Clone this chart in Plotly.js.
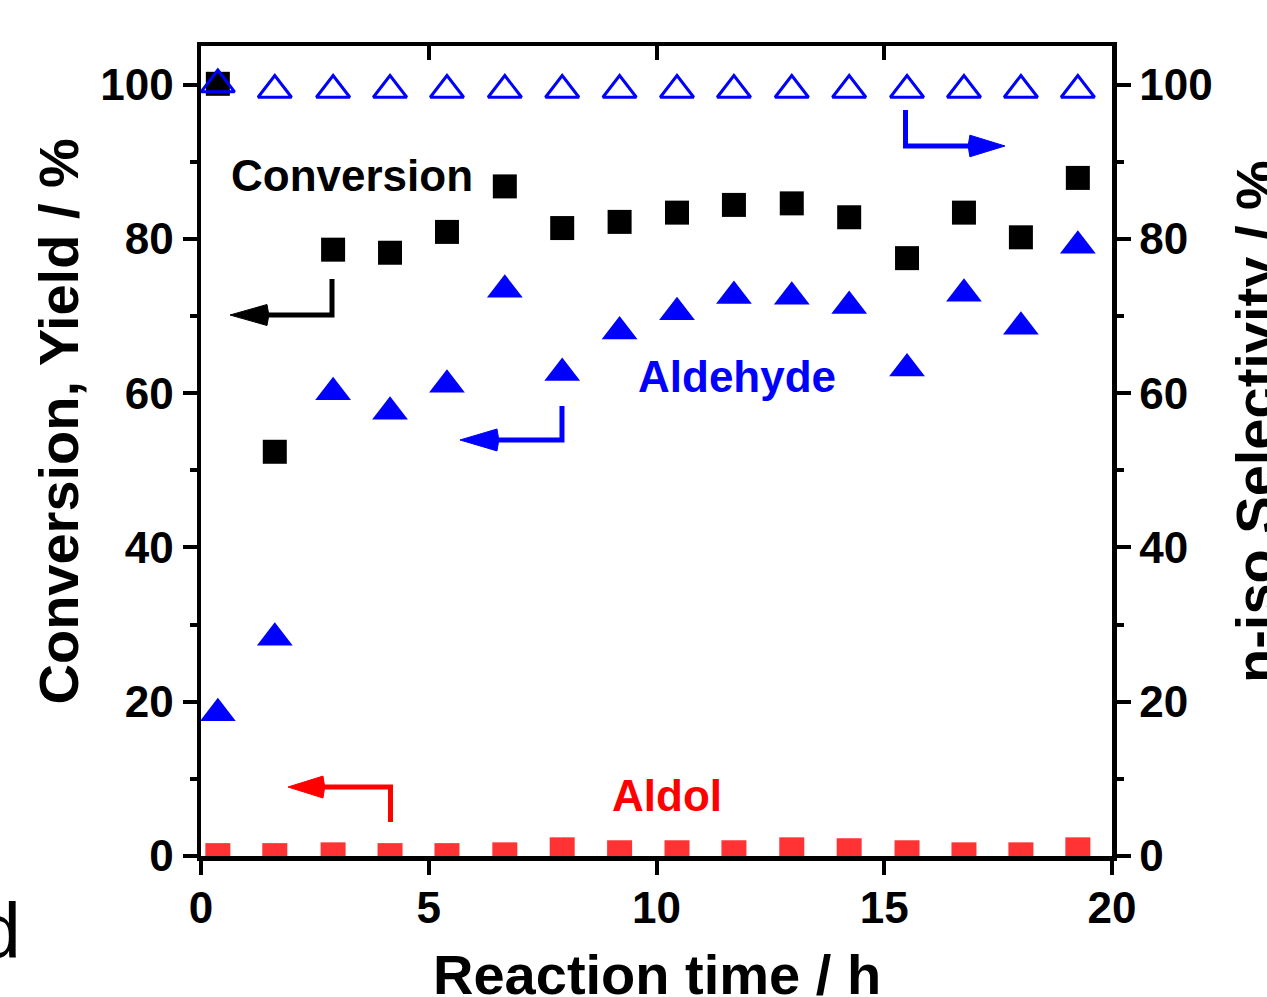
<!DOCTYPE html>
<html>
<head>
<meta charset="utf-8">
<script src="https://cdn.plot.ly/plotly-3.0.1.min.js"></script>
<style>html,body{margin:0;padding:0;background:#fff;}#chart{width:1267px;height:997px;}</style>
</head>
<body>
<div id="chart"></div>
<script>
// ---- data ----
const timeH = [0.37, 1.62, 2.90, 4.15, 5.40, 6.67, 7.93, 9.19, 10.45, 11.70, 12.97, 14.23, 15.50, 16.75, 18.00, 19.25];
const conversion = [100.1, 52.4, 78.6, 78.2, 80.9, 86.8, 81.4, 82.2, 83.4, 84.4, 84.6, 82.8, 77.5, 83.4, 80.2, 87.9];
const aldehydeYield = [18.5, 28.3, 60.1, 57.6, 61.1, 73.4, 62.6, 68.0, 70.5, 72.6, 72.5, 71.3, 63.2, 72.9, 68.6, 79.1];
const aldolYield = [0.05, 0.05, 0.15, 0.05, 0.05, 0.15, 0.8, 0.42, 0.42, 0.42, 0.8, 0.68, 0.42, 0.15, 0.15, 0.8];
const nIsoSelectivity = [100.0, 99.3, 99.3, 99.3, 99.3, 99.3, 99.3, 99.3, 99.3, 99.3, 99.3, 99.3, 99.3, 99.3, 99.3, 99.3];
const xTicks = [0, 5, 10, 15, 20];
const yTicks = [0, 20, 40, 60, 80, 100];

const FONT = 'Liberation Sans, Arial, sans-serif';
const BLUE = '#0000ff';

const traces = [
  {x: timeH, y: conversion, type: 'scatter', mode: 'markers', name: 'Conversion',
   marker: {symbol: 'square', size: 24, color: '#000000', line: {width: 0}}},
  {x: timeH, y: aldehydeYield, type: 'scatter', mode: 'markers', name: 'Aldehyde',
   marker: {symbol: 'triangle-up', size: 31, color: BLUE, line: {width: 0}}},
  {x: timeH, y: aldolYield, type: 'scatter', mode: 'markers', name: 'Aldol',
   marker: {symbol: 'square', size: 25, color: 'rgba(255,0,0,0.8)', line: {width: 0}}},
  {x: timeH, y: nIsoSelectivity, type: 'scatter', mode: 'markers', name: 'n-iso Selectivity',
   xaxis: 'x2', yaxis: 'y2',
   marker: {symbol: 'triangle-up-open', size: 29, color: BLUE, line: {width: 3, color: BLUE}}}
];

const tickFont = {family: FONT, size: 44, color: '#000', weight: 'bold'};
const titleFont = {family: FONT, size: 56, weight: 'bold', color: '#000'};
const commonY = {
  range: [0, 105], tickvals: yTicks, ticktext: yTicks.map(String),
  showgrid: false, zeroline: false, showline: true, linecolor: '#000', linewidth: 4.5,
  ticks: 'outside', ticklen: 14, tickwidth: 4, tickcolor: '#000', tickfont: tickFont,
  minor: {ticks: 'outside', dtick: 10, tick0: 0, ticklen: 7, tickwidth: 4, tickcolor: '#000', showgrid: false},
  layer: 'below traces', fixedrange: true
};

// L-shaped arrows (decorations) in data coordinates
function lArrow(xc, yStart, yCorner, xBack, xTip, half, color) {
  return [
    {type: 'path', xref: 'x', yref: 'y', path: `M${xc},${yStart} L${xc},${yCorner} L${xBack},${yCorner}`,
     line: {color: color, width: 5}},
    {type: 'path', xref: 'x', yref: 'y',
     path: `M${xTip},${yCorner} L${xBack},${yCorner + half} L${xBack + (xBack - xTip) * 0.05},${yCorner} L${xBack},${yCorner - half} Z`,
     fillcolor: color, line: {color: color, width: 1}}
  ];
}
const shapes = [].concat(
  lArrow(2.876, 74.8, 70.13, 1.449, 0.637, 1.36, '#000000'),
  lArrow(7.925, 58.33, 53.93, 6.498, 5.686, 1.42, BLUE),
  lArrow(4.160, 4.41, 8.94, 2.678, 1.910, 1.42, '#ff0000'),
  lArrow(15.467, 96.71, 92.04, 16.88, 17.65, 1.40, BLUE)
);

const layout = {
  width: 1267, height: 997,
  margin: {l: 201, r: 155, t: 46, b: 141, pad: 0},
  paper_bgcolor: '#fff', plot_bgcolor: '#fff',
  showlegend: false,
  font: {family: FONT, color: '#000'},
  xaxis: {
    range: [0, 20], tickvals: xTicks, ticktext: xTicks.map(String),
    showgrid: false, zeroline: false, showline: true, linecolor: '#000', linewidth: 4.5,
    ticks: 'outside', ticklen: 14, tickwidth: 4, tickcolor: '#000', tickfont: tickFont,
    ticklabelstandoff: -4,
    layer: 'below traces', fixedrange: true
  },
  xaxis2: {
    range: [0, 20], overlaying: 'x', side: 'top', anchor: 'y2', matches: 'x',
    tickvals: xTicks, showticklabels: false,
    showgrid: false, zeroline: false, showline: true, linecolor: '#000', linewidth: 4.5,
    ticks: 'inside', ticklen: 14, tickwidth: 4, tickcolor: '#000', fixedrange: true
  },
  yaxis: Object.assign({}, commonY, {side: 'left', anchor: 'x'}),
  yaxis2: Object.assign({}, commonY, {side: 'right', overlaying: 'y', anchor: 'x2'}),
  shapes: shapes,
  annotations: [
    {xref: 'paper', yref: 'paper', x: 0.5, y: -0.1469, text: 'Reaction time / h',
     showarrow: false, xanchor: 'center', yanchor: 'middle', font: titleFont},
    {xref: 'paper', yref: 'paper', x: -0.1575, y: 0.5358, text: 'Conversion, Yield / %', textangle: -90,
     showarrow: false, xanchor: 'center', yanchor: 'middle', font: titleFont},
    {xref: 'paper', yref: 'paper', x: 1.157, y: 0.5358, text: 'n-iso Selectivity / %', textangle: -90,
     showarrow: false, xanchor: 'center', yanchor: 'middle', font: titleFont},
    {xref: 'x', yref: 'y', x: 3.32, y: 88.15, text: 'Conversion', showarrow: false,
     font: {family: FONT, size: 44, weight: 'bold', color: '#000'}},
    {xref: 'x', yref: 'y', x: 11.77, y: 62.1, text: 'Aldehyde', showarrow: false,
     font: {family: FONT, size: 44, weight: 'bold', color: BLUE}},
    {xref: 'x', yref: 'y', x: 10.23, y: 7.78, text: 'Aldol', showarrow: false,
     font: {family: FONT, size: 44, weight: 'bold', color: '#ff0000'}},
    {xref: 'paper', yref: 'paper', x: -0.195, y: -0.092, text: 'd', showarrow: false,
     xanchor: 'right', yanchor: 'middle',
     font: {family: FONT, size: 77, color: '#000'}}
  ]
};

Plotly.newPlot('chart', traces, layout, {displayModeBar: false, staticPlot: true});
</script>
</body>
</html>
